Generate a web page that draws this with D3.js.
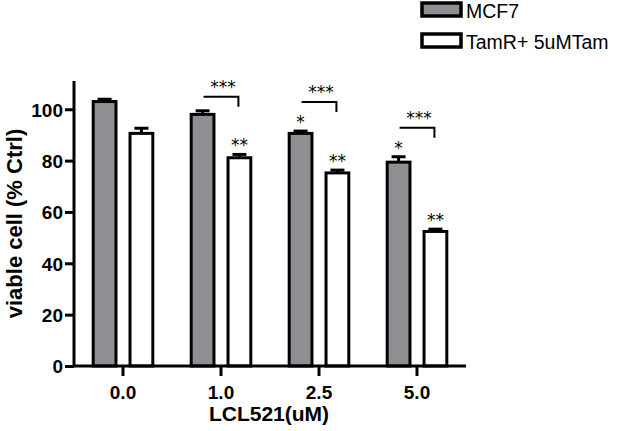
<!DOCTYPE html>
<html>
<head>
<meta charset="utf-8">
<script src="https://cdn.jsdelivr.net/npm/d3@7"></script>
<style>
  body { margin: 0; background: #fff; }
  text { font-family: "Liberation Sans", Arial, sans-serif; }
  .star { font-family: "DejaVu Sans", sans-serif; }
</style>
</head>
<body>
<div id="holder"></div>
<script>
const w = 625;
const h = 431;

// DATA
const doses = ["0.0", "1.0", "2.5", "5.0"];
const series = ["MCF7", "TamR+ 5uMTam"];
const mcf7 = [103, 98, 90.6, 79.4];
const mcf7Err = [0.9, 1.4, 0.9, 2.1];
const tamr = [90.6, 81.1, 75.2, 52.4];
const tamrErr = [2.0, 1.3, 1.1, 0.9];
const mcf7Stars = ["", "", "*", "*"];
const tamrStars = ["", "**", "**", "**"];
const pairStars = ["", "***", "***", "***"];
const yTicks = [0, 20, 40, 60, 80, 100];

const colors = { "MCF7": "#8e8f92", "TamR+ 5uMTam": "#ffffff" };

const svg = d3.select("#holder")
  .append("svg")
  .attr("width", w)
  .attr("height", h);

// SCALES
const x = d3.scaleBand().domain(doses).range([74, 466]);
const xi = d3.scaleBand().domain(series).range([0, x.bandwidth()])
  .paddingInner(0.3).paddingOuter(0.48);
const y = d3.scaleLinear().domain([0, 111]).range([366, 81]);

// BARS
const rows = doses.map((d, i) => [
  { dose: d, s: series[0], v: mcf7[i], e: mcf7Err[i], star: mcf7Stars[i] },
  { dose: d, s: series[1], v: tamr[i], e: tamrErr[i], star: tamrStars[i] }
]).flat();

const cx = d => x(d.dose) + xi(d.s) + xi.bandwidth() / 2;

// error bars (up only)
const eb = svg.append("g").attr("stroke", "#000").attr("stroke-width", 3);
eb.selectAll(".ev").data(rows).enter().append("line")
  .attr("x1", cx).attr("x2", cx)
  .attr("y1", d => y(d.v)).attr("y2", d => y(d.v + d.e));
eb.selectAll(".ec").data(rows).enter().append("line")
  .attr("x1", d => cx(d) - 7).attr("x2", d => cx(d) + 7)
  .attr("y1", d => y(d.v + d.e)).attr("y2", d => y(d.v + d.e));

svg.append("g").selectAll("rect").data(rows).enter().append("rect")
  .attr("x", d => x(d.dose) + xi(d.s) + 1.5)
  .attr("width", xi.bandwidth() - 3)
  .attr("y", d => y(d.v))
  .attr("height", d => y(0) - y(d.v))
  .attr("fill", d => colors[d.s])
  .attr("stroke", "#000")
  .attr("stroke-width", 3);

// STARS over bars
svg.append("g").selectAll("text").data(rows.filter(d => d.star)).enter().append("text")
  .attr("class", "star")
  .attr("x", cx)
  .attr("y", d => y(d.v + d.e) - 3)
  .attr("text-anchor", "middle")
  .attr("font-size", 17)
  .text(d => d.star);

// BRACKETS between pairs
doses.forEach((d, i) => {
  if (!pairStars[i]) return;
  const g = rows[i * 2], t = rows[i * 2 + 1];
  const by = y(g.v + g.e) - (g.star ? 29 : 14);
  const x1 = cx(g) + 1, x2 = cx(t) - 1;
  svg.append("path")
    .attr("d", `M${x1},${by}H${x2}V${by + 10}`)
    .attr("fill", "none")
    .attr("stroke", "#000")
    .attr("stroke-width", 2);
  svg.append("text")
    .attr("class", "star")
    .attr("x", (x1 + x2) / 2 + 2)
    .attr("y", by - 4)
    .attr("text-anchor", "middle")
    .attr("font-size", 17)
    .text(pairStars[i]);
});

// AXES
const yAxis = d3.axisLeft(y).tickValues(yTicks).tickSize(9).tickPadding(2).tickFormat(d3.format("d"));
const ya = svg.append("g").attr("transform", "translate(74,0)").call(yAxis);
const xAxis = d3.axisBottom(x).tickSize(10).tickPadding(5);
const xa = svg.append("g").attr("transform", "translate(0,366)").call(xAxis);

[ya, xa].forEach(a => {
  a.select(".domain").attr("stroke-width", 3);
  a.selectAll(".tick line").attr("stroke-width", 3);
  a.selectAll(".tick text").attr("font-size", 19).attr("font-weight", "bold")
    .attr("font-family", "'Liberation Sans', Arial, sans-serif").attr("fill", "#000");
});
ya.select(".domain").attr("d", `M0,${y(111)}V${y(0)}`);
xa.select(".domain").attr("d", `M74,0H466`);
xa.selectAll(".tick text").attr("dy", "0.95em");
ya.selectAll(".tick text").attr("dy", "0.36em");

// AXIS TITLES
svg.append("text")
  .attr("transform", `translate(22,${(y(0) + y(111)) / 2}) rotate(-90)`)
  .attr("text-anchor", "middle")
  .attr("font-size", 22)
  .attr("font-weight", "bold")
  .text("viable cell (% Ctrl)");

svg.append("text")
  .attr("x", 269)
  .attr("y", 421)
  .attr("text-anchor", "middle")
  .attr("font-size", 21)
  .attr("font-weight", "bold")
  .text("LCL521(uM)");

// LEGEND
const leg = svg.append("g").selectAll("g").data(series).enter().append("g")
  .attr("transform", (d, i) => `translate(422,${3 + i * 31})`);
leg.append("rect")
  .attr("width", 39).attr("height", 13)
  .attr("fill", d => colors[d])
  .attr("stroke", "#000").attr("stroke-width", 3.5);
leg.append("text")
  .attr("x", 44).attr("y", 14.5)
  .attr("font-size", 19.5)
  .text(d => d);
</script>
</body>
</html>
